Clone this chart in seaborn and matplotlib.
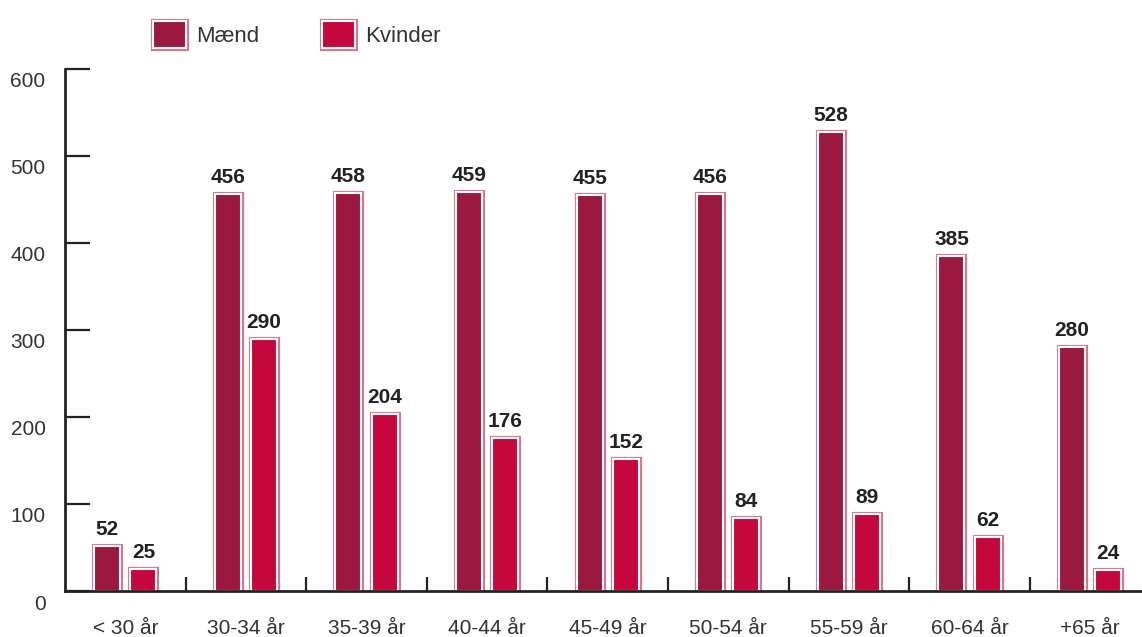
import matplotlib
matplotlib.use("Agg")
import matplotlib.pyplot as plt
import matplotlib.patheffects as pe
from matplotlib.patches import Patch
from matplotlib.transforms import ScaledTranslation
import seaborn as sns
import pandas as pd

categories = ["< 30 år", "30-34 år", "35-39 år", "40-44 år", "45-49 år",
              "50-54 år", "55-59 år", "60-64 år", "+65 år"]
maend = [52, 456, 458, 459, 455, 456, 528, 385, 280]
kvinder = [25, 290, 204, 176, 152, 84, 89, 62, 24]
series = ["Mænd", "Kvinder"]
yticks = [0, 100, 200, 300, 400, 500, 600]

col_m = "#9b1840"
col_k = "#c4083e"
col_outline = "#dc7483"
txt = "#222222"

df = pd.DataFrame({
    "group": categories * 2,
    "value": maend + kvinder,
    "sex": [series[0]] * len(categories) + [series[1]] * len(categories),
})

sns.set_theme(style="white")
plt.rcParams["font.family"] = ["Liberation Sans", "DejaVu Sans"]

fig = plt.figure(figsize=(11.42, 6.37), dpi=100)
ax = fig.add_axes([65 / 1142, 1 - 591 / 637, 1 - 65 / 1142, (591 - 69) / 637])

sns.barplot(data=df, x="group", y="value", hue="sex", order=categories,
            hue_order=series, palette=[col_m, col_k], width=0.6, gap=0.28,
            ax=ax, legend=False, edgecolor="white", linewidth=1.5,
            saturation=1)

effects = [pe.Stroke(linewidth=3.7, foreground=col_outline), pe.Normal()]
for p in ax.patches:
    p.set_path_effects(effects)

for cont in ax.containers:
    ax.bar_label(cont, fmt="%d", padding=5, fontsize=15, fontweight="bold",
                 color=txt)

ax.set_ylim(0, 600)
ax.set_xlim(-0.5, 8.43)
ax.set_yticks(yticks)
ax.set_xlabel("")
ax.set_ylabel("")

for s in ["top", "right"]:
    ax.spines[s].set_visible(False)
for s in ["left", "bottom"]:
    ax.spines[s].set_color(txt)
    ax.spines[s].set_linewidth(2)

ax.tick_params(axis="y", direction="in", length=18, width=1.6, color=txt,
               pad=14, labelsize=15, labelcolor="#333333", left=True)
ax.tick_params(axis="x", which="major", length=0, pad=20, labelsize=15,
               labelcolor="#333333")
ax.set_xticks([i + 0.5 for i in range(8)], minor=True)
ax.tick_params(axis="x", which="minor", direction="in", length=10, width=1.6,
               color=txt, bottom=True)

offset = ScaledTranslation(0, -0.11, fig.dpi_scale_trans)
for lab in ax.get_yticklabels():
    lab.set_transform(lab.get_transform() + offset)

handles = [Patch(facecolor=col_m, edgecolor="white", linewidth=1.5,
                 path_effects=effects, label=series[0]),
           Patch(facecolor=col_k, edgecolor="white", linewidth=1.5,
                 path_effects=effects, label=series[1])]
fig.legend(handles=handles, loc="upper left",
           bbox_to_anchor=(133 / 1142, 1 - 1 / 637), ncol=2, frameon=False,
           fontsize=16, handlelength=1.5, handleheight=1.5,
           handletextpad=0.45, columnspacing=2.8, labelcolor="#333333")

fig.savefig("out.png", dpi=100)
